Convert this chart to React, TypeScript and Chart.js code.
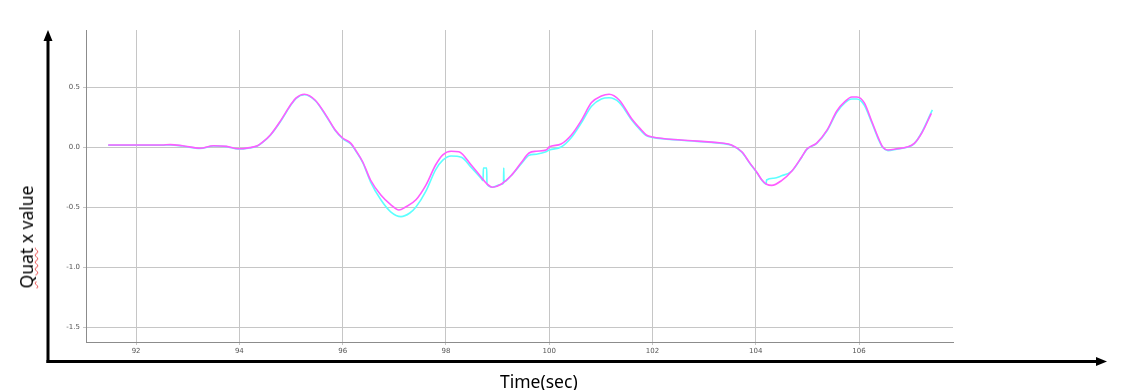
import React, { useEffect, useRef } from "react";
import { Chart, registerables } from "chart.js";

Chart.register(...registerables);

const xTickValues = [92, 94, 96, 98, 100, 102, 104, 106];
const yTickValues = [-1.5, -1.0, -0.5, 0.0, 0.5];

const magentaTime = [
  91.46, 92.0, 92.5, 92.66, 92.9, 93.24, 93.5, 93.75, 93.98, 94.2, 94.35, 94.45, 94.6, 94.8, 94.99, 95.1,
  95.26, 95.47, 95.67, 95.86, 96.0, 96.16, 96.25, 96.39, 96.54, 96.74, 96.93, 97.09, 97.22, 97.42, 97.61,
  97.8, 97.94, 98.1, 98.25, 98.49, 98.68, 98.8, 98.9, 99.07, 99.26, 99.46, 99.61, 99.75, 99.94, 100.0,
  100.23, 100.43, 100.62, 100.82, 101.01, 101.16, 101.36, 101.59, 101.79, 101.88, 102.0, 102.56, 103.34,
  103.53, 103.73, 103.88, 104.02, 104.12, 104.21, 104.31, 104.5, 104.7, 104.89, 104.99, 105.18, 105.38,
  105.57, 105.73, 105.86, 105.96, 106.1, 106.25, 106.38, 106.46, 106.56, 106.73, 106.93, 107.07, 107.22, 107.4,
];
const magentaVals = [
  0.017, 0.017, 0.017, 0.02, 0.01, -0.01, 0.01, 0.005, -0.015, -0.005, 0.01, 0.04, 0.1, 0.22, 0.35, 0.41,
  0.44, 0.39, 0.27, 0.14, 0.075, 0.03, -0.025, -0.125, -0.275, -0.4, -0.48, -0.525, -0.5, -0.44, -0.32,
  -0.15, -0.065, -0.035, -0.04, -0.15, -0.25, -0.31, -0.335, -0.31, -0.24, -0.13, -0.05, -0.035, -0.025, 0.0,
  0.025, 0.1, 0.22, 0.37, 0.425, 0.44, 0.39, 0.24, 0.14, 0.1, 0.083, 0.058, 0.033,
  0.017, -0.04, -0.13, -0.21, -0.275, -0.31, -0.32, -0.28, -0.2, -0.083, -0.017, 0.033, 0.14,
  0.3, 0.38, 0.417, 0.417, 0.37, 0.21, 0.07, 0.0, -0.025, -0.015, 0.0, 0.03, 0.12, 0.28,
];

const cyanTime = [
  91.46, 92.0, 92.5, 92.66, 92.9, 93.24, 93.5, 93.75, 93.98, 94.2, 94.35, 94.45, 94.6, 94.8, 94.99, 95.1,
  95.26, 95.47, 95.67, 95.86, 96.0, 96.16, 96.25, 96.39, 96.54, 96.74, 96.93, 97.13, 97.3, 97.42, 97.61,
  97.8, 97.94, 98.1, 98.3, 98.49, 98.68, 98.72, 98.725, 98.79, 98.795, 98.9, 99.07, 99.115, 99.12, 99.125,
  99.26, 99.46, 99.61, 99.75, 99.94, 100.0, 100.23, 100.43, 100.62, 100.82, 101.01, 101.16, 101.36, 101.59,
  101.79, 101.88, 102.0, 102.56, 103.34, 103.53, 103.73, 103.88, 104.02, 104.12, 104.2, 104.21, 104.35,
  104.5, 104.7, 104.89, 104.99, 105.18, 105.38, 105.57, 105.73, 105.86, 105.96, 106.1, 106.25, 106.38,
  106.46, 106.56, 106.73, 106.93, 107.07, 107.22, 107.42,
];
const cyanVals = [
  0.015, 0.015, 0.015, 0.018, 0.008, -0.012, 0.008, 0.003, -0.017, -0.007, 0.008, 0.038, 0.098, 0.215, 0.345, 0.405,
  0.435, 0.385, 0.265, 0.135, 0.07, 0.025, -0.03, -0.13, -0.29, -0.44, -0.54, -0.58, -0.55, -0.5, -0.37,
  -0.19, -0.11, -0.075, -0.085, -0.17, -0.26, -0.28, -0.175, -0.175, -0.31, -0.335, -0.31, -0.3, -0.175, -0.29,
  -0.24, -0.14, -0.07, -0.06, -0.04, -0.025, 0.0, 0.08, 0.2, 0.34, 0.4, 0.41, 0.37, 0.23,
  0.13, 0.095, 0.08, 0.056, 0.03, 0.014, -0.043, -0.133, -0.213, -0.278, -0.31, -0.275, -0.26,
  -0.24, -0.2, -0.085, -0.02, 0.03, 0.135, 0.29, 0.37, 0.4, 0.4, 0.35, 0.2, 0.06,
  -0.005, -0.03, -0.018, -0.003, 0.028, 0.125, 0.31,
];

const arrowPlugin = {
  id: "arrows",
  afterDraw(chart: any) {
    const ctx = chart.ctx;
    ctx.save();
    ctx.strokeStyle = "#000";
    ctx.fillStyle = "#000";
    ctx.lineWidth = 3;
    ctx.beginPath();
    ctx.moveTo(48, 363);
    ctx.lineTo(48, 38);
    ctx.stroke();
    ctx.beginPath();
    ctx.moveTo(48, 30);
    ctx.lineTo(43.5, 41);
    ctx.lineTo(52.5, 41);
    ctx.closePath();
    ctx.fill();
    ctx.beginPath();
    ctx.moveTo(46.5, 361.5);
    ctx.lineTo(1098, 361.5);
    ctx.stroke();
    ctx.beginPath();
    ctx.moveTo(1107, 361.5);
    ctx.lineTo(1096, 357);
    ctx.lineTo(1096, 366);
    ctx.closePath();
    ctx.fill();
    ctx.restore();
  },
};

export default function App() {
  const ref = useRef<HTMLCanvasElement>(null);

  useEffect(() => {
    const chart = new Chart(ref.current as HTMLCanvasElement, {
      type: "line",
      data: {
        datasets: [
          {
            label: "magenta",
            data: magentaTime.map((t, i) => ({ x: t, y: magentaVals[i] })),
            borderColor: "#ff5cff",
            borderWidth: 1.6,
            pointRadius: 0,
            cubicInterpolationMode: "monotone",
          },
          {
            label: "cyan",
            data: cyanTime.map((t, i) => ({ x: t, y: cyanVals[i] })),
            borderColor: "#5cffff",
            borderWidth: 1.6,
            pointRadius: 0,
            cubicInterpolationMode: "monotone",
          },
        ],
      },
      options: {
        responsive: false,
        animation: false,
        layout: { padding: { left: 0, right: 170, top: 30, bottom: 0 } },
        plugins: { legend: { display: false }, tooltip: { enabled: false } },
        scales: {
          x: {
            type: "linear",
            min: 91.03,
            max: 107.82,
            afterBuildTicks: (s: any) => {
              s.ticks = xTickValues.map((v) => ({ value: v }));
            },
            afterFit: (s: any) => {
              s.height = 48;
            },
            grid: { color: "#c6c6c6", tickLength: 3 },
            border: { color: "#8c8c8c", width: 1 },
            ticks: {
              font: { size: 7, family: "DejaVu Sans" },
              color: "#555",
              padding: 2,
              maxRotation: 0,
              autoSkip: false,
              callback: (v: any) => String(v),
            },
          },
          y: {
            type: "linear",
            min: -1.625,
            max: 0.975,
            afterBuildTicks: (s: any) => {
              s.ticks = yTickValues.map((v) => ({ value: v }));
            },
            afterFit: (s: any) => {
              s.width = 86;
            },
            grid: { color: "#c6c6c6", tickLength: 3 },
            border: { color: "#8c8c8c", width: 1 },
            ticks: {
              font: { size: 7, family: "DejaVu Sans" },
              color: "#555",
              padding: 3,
              autoSkip: false,
              callback: (v: any) => Number(v).toFixed(1),
            },
          },
        },
      },
      plugins: [arrowPlugin],
    } as any);
    return () => chart.destroy();
  }, []);

  return (
    <div style={{ position: "fixed", left: 0, top: 0, width: 1123, height: 390, background: "#fff", overflow: "hidden" }}>
      <canvas ref={ref} width={1123} height={390} style={{ position: "absolute", left: 0, top: 0 }} />
      <div
        style={{
          position: "absolute",
          left: 26,
          top: 237,
          transform: "translate(-50%, -50%) rotate(-90deg)",
          whiteSpace: "nowrap",
          fontFamily: "'Noto Sans', sans-serif",
          fontSize: 17.5,
          lineHeight: "22px",
          color: "#000",
        }}
      >
        <span
          style={{
            textDecorationLine: "underline",
            textDecorationStyle: "wavy",
            textDecorationColor: "#e84040",
            textDecorationThickness: "0.5px",
            textUnderlineOffset: "1px",
          }}
        >
          Quat
        </span>{" "}
        x value
      </div>
      <div
        style={{
          position: "absolute",
          left: 500,
          top: 370,
          whiteSpace: "nowrap",
          fontFamily: "'Noto Sans', sans-serif",
          fontSize: 17.5,
          lineHeight: "22px",
          color: "#000",
        }}
      >
        Time(sec)
      </div>
    </div>
  );
}
